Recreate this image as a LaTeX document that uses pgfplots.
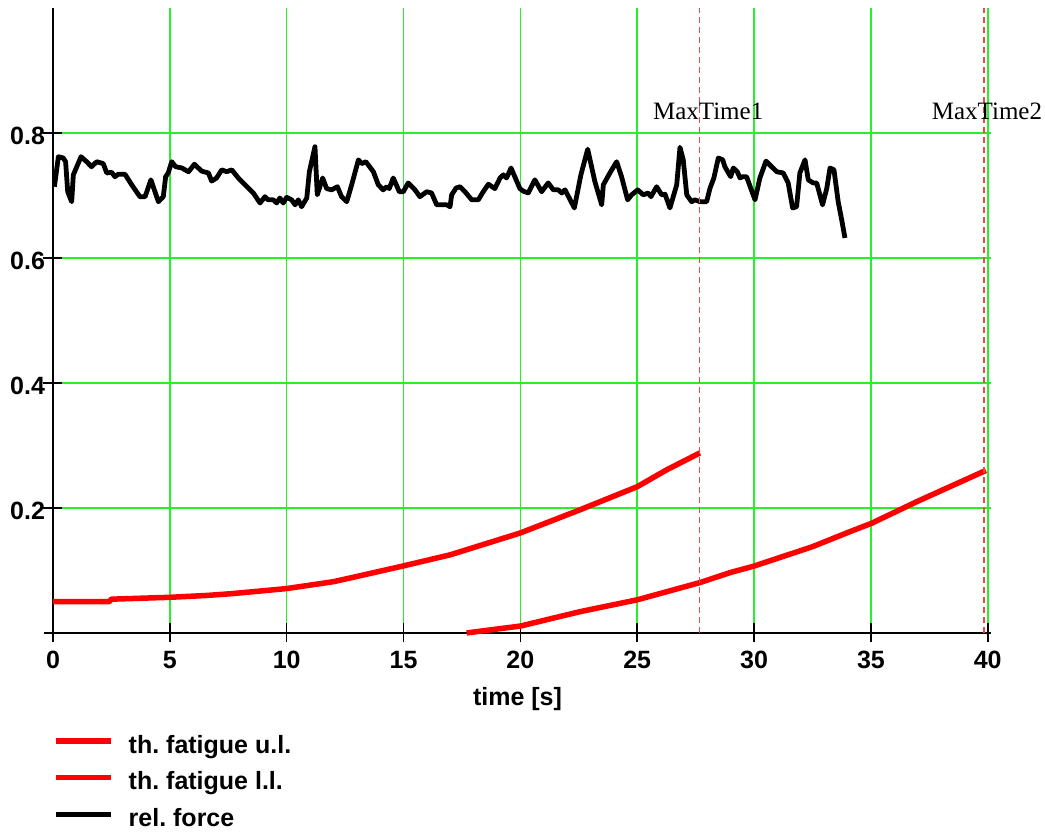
\documentclass[border=0pt]{standalone}
\usepackage{fontspec}
\setmainfont{Liberation Sans}
\newfontfamily\seriffont{Liberation Serif}
\usepackage{pgfplots}
\pgfplotsset{compat=1.18}
\definecolor{gridgreen}{RGB}{40,240,40}
\definecolor{mtred}{RGB}{240,70,70}
\frenchspacing
\begin{document}
\begin{tikzpicture}
\begin{axis}[
 scale only axis, width=947.7pt, height=625pt,
 xmin=-0.4, xmax=40.15, ymin=0, ymax=1,
 axis x line*=bottom, axis y line*=middle,
 xtick={0,5,...,40}, ytick={0.2,0.4,0.6,0.8},
 yticklabels={0.2,0.4,0.6,0.8},
 grid=major, major grid style={gridgreen, line width=1.5pt},
 tick align=center, major tick length=19pt,
 tick style={black, line width=1.6pt},
 axis line style={black, line width=1.6pt},
 /pgf/number format/assume math mode=true,
 ticklabel style={font=\fontsize{25}{25}\selectfont\bfseries},
 xticklabel style={yshift=-5pt},
 yticklabel style={xshift=5pt, yshift=-3pt},
 xlabel={time [s]},
 xlabel style={font=\fontsize{25}{25}\selectfont\bfseries, yshift=-12pt},
 clip=false,
 legend cell align=left,
 legend image code/.code={\draw[#1] (0pt,5.5pt) -- (55pt,5.5pt);},
 legend style={at={(axis description cs:0.0099,-0.160)}, anchor=north west,
   draw=none, fill=none, inner sep=0pt, row sep=9.5pt,
   font=\fontsize{25}{25}\selectfont\bfseries,
   nodes={inner sep=2pt, text height=18pt, text depth=5pt},
   /tikz/every odd column/.append style={column sep=13pt}},
]
\addplot[red, line width=5.5pt, line join=round] coordinates {
(0,0.050) (2.4,0.050) (2.5,0.054) (5,0.057) (6.6,0.060) (7.7,0.063) (10,0.071) (12,0.082) (12.84,0.089) (14.85,0.106) (17,0.125) (20,0.160) (22.55,0.197) (25,0.234) (26.26,0.261) (27.68,0.288)};
\addlegendentry{th. fatigue u.l.}
\addplot[red, line width=5.5pt, line join=round] coordinates {
(17.7,0) (20,0.011) (22.55,0.034) (25,0.053) (27.68,0.0805) (28.97,0.0965) (30,0.107) (32.5,0.138) (34.1,0.162) (35.03,0.1755) (36.96,0.210) (38.38,0.234) (39.92,0.26)};
\addlegendentry{th. fatigue l.l.}
\addplot[black, line width=4.8pt, line join=round] table {
0.06 0.714
0.23 0.762
0.44 0.760
0.54 0.754
0.63 0.706
0.80 0.690
0.87 0.733
1.20 0.762
1.44 0.754
1.65 0.746
1.87 0.754
2.15 0.751
2.30 0.736
2.51 0.737
2.65 0.730
2.79 0.734
3.08 0.734
3.37 0.717
3.72 0.698
3.94 0.698
4.19 0.725
4.51 0.690
4.72 0.698
4.82 0.730
4.93 0.736
5.08 0.754
5.25 0.746
5.51 0.744
5.80 0.738
6.05 0.750
6.36 0.739
6.65 0.736
6.79 0.723
7.00 0.728
7.22 0.741
7.43 0.738
7.65 0.741
7.93 0.728
8.22 0.717
8.57 0.704
8.86 0.688
9.07 0.698
9.21 0.693
9.43 0.693
9.57 0.688
9.71 0.696
9.85 0.688
10.00 0.697
10.21 0.693
10.36 0.685
10.50 0.693
10.64 0.682
10.86 0.696
10.97 0.738
11.21 0.778
11.31 0.701
11.54 0.728
11.71 0.711
11.92 0.709
12.17 0.714
12.35 0.698
12.57 0.690
12.78 0.717
13.07 0.757
13.21 0.751
13.39 0.754
13.71 0.738
13.92 0.717
14.13 0.709
14.28 0.714
14.39 0.711
14.56 0.728
14.82 0.706
14.99 0.706
15.20 0.720
15.49 0.709
15.70 0.698
15.99 0.706
16.20 0.704
16.42 0.685
16.63 0.685
16.85 0.685
16.99 0.682
17.06 0.701
17.25 0.712
17.42 0.714
17.63 0.706
17.92 0.693
18.20 0.693
18.41 0.706
18.63 0.718
18.91 0.711
19.13 0.728
19.27 0.733
19.41 0.728
19.60 0.744
19.98 0.711
20.12 0.707
20.34 0.704
20.62 0.725
20.91 0.706
21.19 0.720
21.41 0.709
21.62 0.709
21.77 0.704
21.91 0.709
22.31 0.680
22.59 0.733
22.88 0.774
23.19 0.722
23.48 0.685
23.55 0.717
23.83 0.736
24.12 0.754
24.33 0.730
24.59 0.693
24.76 0.701
25.02 0.709
25.26 0.701
25.47 0.704
25.59 0.698
25.83 0.714
26.05 0.701
26.19 0.702
26.40 0.680
26.69 0.717
26.83 0.777
26.97 0.757
27.12 0.701
27.33 0.690
27.47 0.693
27.69 0.690
27.97 0.690
28.11 0.711
28.28 0.728
28.47 0.760
28.66 0.757
28.75 0.746
29.00 0.730
29.11 0.744
29.28 0.738
29.40 0.728
29.51 0.730
29.68 0.730
30.04 0.693
30.25 0.728
30.51 0.755
30.75 0.746
30.97 0.738
31.25 0.736
31.46 0.720
31.65 0.680
31.82 0.682
31.96 0.736
32.18 0.757
32.32 0.725
32.53 0.720
32.68 0.720
32.93 0.685
33.11 0.711
33.25 0.744
33.42 0.741
33.60 0.690
33.75 0.661
33.89 0.632
};
\addlegendentry{rel. force}
\addplot[mtred, line width=1.6pt, dash pattern=on 6pt off 4pt, forget plot] coordinates {(27.66,0) (27.66,1)};
\addplot[mtred, line width=1.6pt, dash pattern=on 6pt off 4pt, forget plot] coordinates {(39.85,0) (39.85,1)};
\node[anchor=base west, inner sep=0pt, font=\fontsize{25}{25}\selectfont\seriffont] at (axis cs:25.67,0.822) {MaxTime1};
\node[anchor=base west, inner sep=0pt, font=\fontsize{25}{25}\selectfont\seriffont] at (axis cs:37.6,0.822) {MaxTime2};
\coordinate (BBsw) at (axis cs:-2.268,-0.3184);
\coordinate (BBne) at (axis cs:42.45,1.0128);
\end{axis}
\pgfresetboundingbox
\path (BBsw) rectangle (BBne);
\end{tikzpicture}
\end{document}
